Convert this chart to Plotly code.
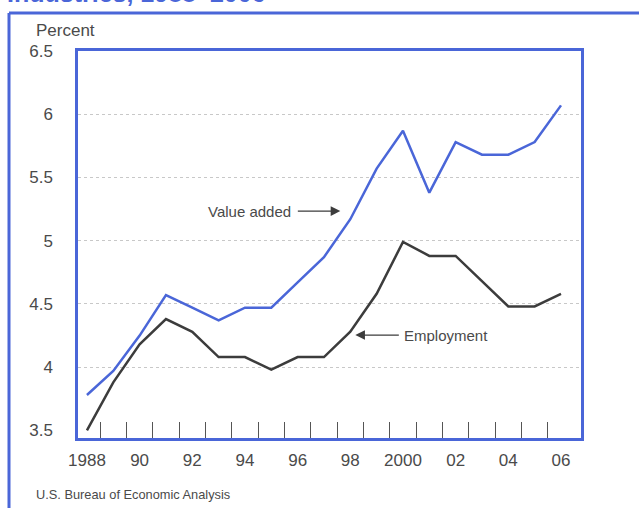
import plotly.graph_objects as go

years = list(range(1988, 2007))
value_added = [3.78, 3.97, 4.25, 4.57, 4.47, 4.37, 4.47, 4.47, 4.67, 4.87,
               5.17, 5.57, 5.87, 5.38, 5.78, 5.68, 5.68, 5.78, 6.07]
employment = [3.5, 3.88, 4.18, 4.38, 4.28, 4.08, 4.08, 3.98, 4.08, 4.08,
              4.28, 4.58, 4.99, 4.88, 4.88, 4.68, 4.48, 4.48, 4.58]

x_tick_vals = [1988, 1990, 1992, 1994, 1996, 1998, 2000, 2002, 2004, 2006]
x_tick_text = ["1988", "90", "92", "94", "96", "98", "2000", "02", "04", "06"]
x_minor_ticks = [y + 0.5 for y in range(1988, 2006)]
y_tick_vals = [3.5, 4, 4.5, 5, 5.5, 6, 6.5]
y_tick_text = ["3.5", "4", "4.5", "5", "5.5", "6", "6.5"]
y_grid_vals = [4, 4.5, 5, 5.5, 6]

BLUE = "#4a66d8"
GRAY = "#3c3c3c"
TEXT = "#4a4a4a"
FONT = "Liberation Sans, Arial, sans-serif"

W, H = 639, 508
ML, MR, MT, MB = 78, 58, 51, 70
PW, PH = W - ML - MR, H - MT - MB

def px(xp):
    return (xp - ML) / PW

def py(yp):
    return 1 - (yp - MT) / PH

fig = go.Figure()
fig.add_trace(go.Scatter(x=years, y=value_added, mode="lines",
                         line=dict(color=BLUE, width=2.5), name="Value added"))
fig.add_trace(go.Scatter(x=years, y=employment, mode="lines",
                         line=dict(color=GRAY, width=2.5), name="Employment"))

fig.update_layout(
    width=W, height=H,
    margin=dict(l=ML, r=MR, t=MT, b=MB),
    paper_bgcolor="white", plot_bgcolor="white",
    showlegend=False,
    font=dict(family=FONT, color=TEXT, size=15),
    xaxis=dict(range=[1987.66, 2006.76], tickmode="array",
               tickvals=x_tick_vals, ticktext=x_tick_text,
               ticks="", showgrid=False, zeroline=False,
               showline=True, linecolor=BLUE, linewidth=2.5, mirror=True,
               tickfont=dict(size=17, color=TEXT), ticklabelstandoff=5,
               minor=dict(tickmode="array", tickvals=x_minor_ticks,
                          ticks="inside", ticklen=16, tickwidth=1.3,
                          tickcolor="#555555", showgrid=False)),
    yaxis=dict(range=[3.44, 6.5], tickmode="array",
               tickvals=y_tick_vals, ticktext=y_tick_text,
               ticks="", showgrid=False, zeroline=False,
               showline=True, linecolor=BLUE, linewidth=2.5, mirror=True,
               tickfont=dict(size=17, color=TEXT), ticklabelstandoff=19,
               minor=dict(tickmode="array", tickvals=y_grid_vals,
                          showgrid=True, gridcolor="#c8c8c8", griddash="dot",
                          gridwidth=1, ticks="")),
)

annotations = [
    dict(text="Percent", xref="paper", yref="paper", x=px(34), y=py(31),
         xanchor="left", yanchor="middle", showarrow=False,
         font=dict(size=17, color=TEXT)),
    dict(text="U.S. Bureau of Economic Analysis", xref="paper", yref="paper",
         x=px(34), y=py(494), xanchor="left", yanchor="middle",
         showarrow=False, font=dict(size=12.8, color=TEXT)),
    dict(text="<b>Industries, 1988–2006</b>", xref="paper", yref="paper",
         x=px(5), y=py(9), xanchor="left", yanchor="bottom",
         showarrow=False, font=dict(size=25, color=BLUE)),
    dict(text="Value added", x=1994.16, y=5.234, xanchor="center",
         yanchor="middle", showarrow=False, font=dict(size=15, color=TEXT)),
    dict(text="", x=1997.62, y=5.234, ax=1995.95, ay=5.234,
         axref="x", ayref="y", showarrow=True, arrowhead=2, arrowsize=1.6,
         arrowwidth=1.2, arrowcolor=GRAY),
    dict(text="Employment", x=2001.65, y=4.254, xanchor="center",
         yanchor="middle", showarrow=False, font=dict(size=15, color=TEXT)),
    dict(text="", x=1998.19, y=4.254, ax=1999.9, ay=4.254,
         axref="x", ayref="y", showarrow=True, arrowhead=2, arrowsize=1.6,
         arrowwidth=1.2, arrowcolor=GRAY),
]
fig.update_layout(annotations=annotations)

fig.add_shape(type="line", xref="paper", yref="paper",
              x0=px(9), x1=px(660), y0=py(13), y1=py(13),
              line=dict(color=BLUE, width=3))
fig.add_shape(type="line", xref="paper", yref="paper",
              x0=px(9), x1=px(9), y0=py(13), y1=py(530),
              line=dict(color=BLUE, width=3))

fig.write_html("out.html",
               config={"displayModeBar": False},
               post_script="document.body.style.margin='0';"
                           "document.body.style.overflow='hidden';")
